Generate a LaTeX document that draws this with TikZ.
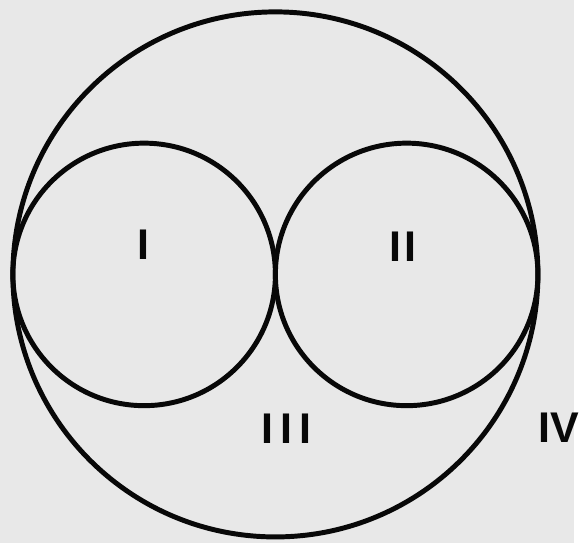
\documentclass[tikz,border=0pt]{standalone}
\usepackage{fontspec}
\setmainfont{Liberation Sans}
\usepackage{xcolor}
\definecolor{papercolor}{RGB}{232,232,232}
\definecolor{inkcolor}{RGB}{8,8,8}

\begin{document}
\begin{tikzpicture}[
    x=0.03cm, y=-0.03cm,
    ring/.style={draw=inkcolor, line width=0.15cm},
    region/.style={font=\fontsize{37}{37}\selectfont\bfseries, text=inkcolor, inner sep=0pt}
]
% Paper
\fill[papercolor] (0,0) rectangle (579,548);

% Centres
\coordinate (outer) at (278,277);
\coordinate (left) at (145.5,277);
\coordinate (right) at (410.5,277);

% Circles
\draw[ring] (outer) circle[radius=265];
\draw[ring] (left) circle[radius=132.5];
\draw[ring] (right) circle[radius=132.5];

% Region labels
\node[region] (regI) at (145,247) {I};
\node[region] (regII) at (407,249) {I\kern3ptI};
\node[region] (regIII) at (289,433) {I\kern6ptI\kern6ptI};
\node[region] (regIV) at (564,432) {IV};
\end{tikzpicture}
\end{document}
